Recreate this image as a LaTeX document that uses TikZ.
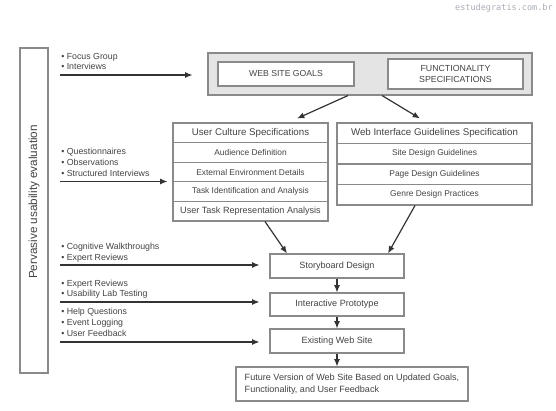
\documentclass[tikz,border=0pt]{standalone}
\usepackage{fontspec}
\setmainfont{Liberation Sans}
\newfontfamily\wmfont{DejaVu Sans Mono}
\usetikzlibrary{arrows.meta,calc}
\definecolor{boxline}{HTML}{8A8A8A}
\definecolor{txt}{HTML}{444444}
\definecolor{arr}{HTML}{333333}
\definecolor{topfill}{HTML}{E4E4E4}
\definecolor{wm}{HTML}{A9AEB6}
\tikzset{
  box/.style={draw=boxline, line width=0.8pt, fill=white, inner sep=1pt, text=txt, align=center},
  rowbox/.style={box, minimum width=155*0.75pt, minimum height=19.6*0.75pt, font=\fontsize{6.3}{7}\selectfont},
  wibox/.style={box, minimum width=195*0.75pt, minimum height=20.5*0.75pt, font=\fontsize{6.3}{7}\selectfont},
  hdr/.style={font=\fontsize{7.3}{8}\selectfont},
  stage/.style={box, minimum width=134*0.75pt, font=\fontsize{6.8}{8}\selectfont},
  lefttxt/.style={anchor=base west, inner sep=0pt, text=txt, font=\fontsize{6.6}{7.5}\selectfont},
  conn/.style={draw=arr, line width=0.9pt, -{Latex[length=5.5pt,width=4.5pt]}}
}
\begin{document}
\begin{tikzpicture}[x=0.75pt,y=-0.75pt]
\useasboundingbox[fill=white] (0,0) rectangle (556,410);
% watermark
\node[anchor=east, inner sep=0pt, text=wm, font=\wmfont\fontsize{6.4}{7}\selectfont] (wmk) at (553,8) {estudegratis.com.br};
% left vertical box
\node[draw=boxline, line width=0.8pt, minimum width=28*0.75pt, minimum height=325*0.75pt, inner sep=0pt] (pbox) at (34,210.5) {};
\node[rotate=90, inner sep=0pt, text=txt, font=\fontsize{8.8}{10}\selectfont] (plabel) at (34,202) {Pervasive usability evaluation};
% top group
\node[draw=boxline, line width=0.8pt, fill=topfill, minimum width=324*0.75pt, minimum height=42*0.75pt, inner sep=0pt] (top) at (370,74) {};
\node[box, minimum width=136*0.75pt, minimum height=24*0.75pt, font=\fontsize{6.5}{7.5}\selectfont] (goals) at (286,74) {WEB SITE GOALS};
\node[box, minimum width=135*0.75pt, minimum height=30*0.75pt, font=\fontsize{6.6}{8}\selectfont] (func) at (455.5,74) {FUNCTIONALITY\\SPECIFICATIONS};
% user culture specifications
\node[rowbox, hdr] (uc0) at (250.5,132.8) {User Culture Specifications};
\node[rowbox] (uc1) at (250.5,152.4) {Audience Definition};
\node[rowbox] (uc2) at (250.5,172.0) {External Environment Details};
\node[rowbox] (uc3) at (250.5,191.6) {Task Identification and Analysis};
\node[rowbox, font=\fontsize{6.8}{8}\selectfont] (uc4) at (250.5,211.2) {User Task Representation Analysis};
% web interface guidelines
\node[wibox, hdr] (wi0) at (434.5,133.25) {Web Interface Guidelines Specification};
\node[wibox] (wi1) at (434.5,153.75) {Site Design Guidelines};
\node[wibox] (wi2) at (434.5,174.25) {Page Design Guidelines};
\node[wibox] (wi3) at (434.5,194.75) {Genre Design Practices};
% stages
\node[stage, minimum height=24*0.75pt] (story) at (337,266) {Storyboard Design};
\node[stage, minimum height=23*0.75pt] (proto) at (337,304.5) {Interactive Prototype};
\node[stage, minimum height=24*0.75pt] (exist) at (337,341) {Existing Web Site};
\node[box, minimum width=232*0.75pt, minimum height=34*0.75pt, align=left, inner sep=5pt, font=\fontsize{6.8}{9}\selectfont] (future) at (352,384) {Future Version of Web Site Based on Updated Goals,\\Functionality, and User Feedback};
% left texts
\node[lefttxt] (t11) at (61,60) {• Focus Group};
\node[lefttxt] (t12) at (61,69.5) {• Interviews};
\node[lefttxt] (t21) at (61,154.5) {• Questionnaires};
\node[lefttxt] (t22) at (61,165.5) {• Observations};
\node[lefttxt] (t23) at (61,176) {• Structured Interviews};
\node[lefttxt] (t31) at (61,249.5) {• Cognitive Walkthroughs};
\node[lefttxt] (t32) at (61,260.5) {• Expert Reviews};
\node[lefttxt] (t41) at (61,286) {• Expert Reviews};
\node[lefttxt] (t42) at (61,296.5) {• Usability Lab Testing};
\node[lefttxt] (t51) at (61,314) {• Help Questions};
\node[lefttxt] (t52) at (61,325.5) {• Event Logging};
\node[lefttxt] (t53) at (61,336) {• User Feedback};
% left arrows
\coordinate (s1) at (60,75);
\coordinate (s2) at (60,181.5);
\coordinate (s3) at (60,265);
\coordinate (s4) at (60,302);
\coordinate (s5) at (60,342);
\draw[conn, shorten >=11.25pt] (s1) -- (s1 -| top.west);
\draw[conn, shorten >=3.75pt] (s2) -- (s2 -| uc2.west);
\draw[conn, shorten >=7.5pt] (s3) -- (s3 -| story.west);
\draw[conn, shorten >=7.5pt] (s4) -- (s4 -| proto.west);
\draw[conn, shorten >=7.5pt] (s5) -- (s5 -| exist.west);
% flow arrows
\draw[conn] ($(top.south)+(-22,0)$) -- ($(uc0.north)+(46.5,-4)$);
\draw[conn] ($(top.south)+(12,0)$) -- ($(wi0.north)+(-14.5,-4)$);
\draw[conn] ($(uc4.south)+(14.5,0)$) -- ($(story.north)+(-50,0)$);
\draw[conn] ($(wi3.south)+(-19.5,0)$) -- ($(story.north)+(51,0)$);
\draw[conn] (story.south) -- (proto.north);
\draw[conn] (proto.south) -- (exist.north);
\draw[conn] (exist.south) -- (exist.south |- future.north);
\end{tikzpicture}
\end{document}
